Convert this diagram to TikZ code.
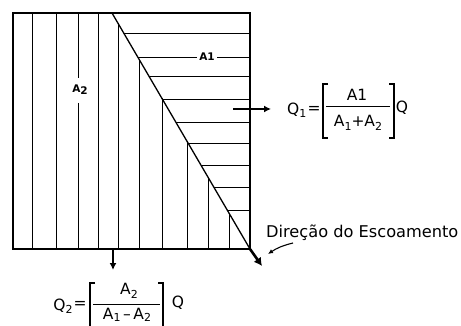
\documentclass[tikz,border=0pt]{standalone}
\usepackage{fontspec}
\setmainfont{DejaVu Sans}
\usetikzlibrary{arrows.meta}
\newcommand{\sbx}[1]{\raisebox{-3.5pt}{\fontsize{11}{11}\selectfont #1}}
\newcommand{\sby}[1]{\raisebox{-2.5pt}{\fontsize{11}{11}\selectfont #1}}
\begin{document}
\begin{tikzpicture}[x=1pt,y=-1pt,
  hatch/.style={line width=0.9pt},
  frame/.style={line width=2.6pt},
  diag/.style={line width=1.3pt},
  lbl/.style={inner sep=1pt,font=\bfseries\fontsize{10.5}{10.5}\selectfont},
  eq/.style={inner sep=0pt,font=\fontsize{15.5}{16}\selectfont},
  brk/.style={line width=1.2pt},
  flow/.style={line width=1.8pt,-{Latex[length=7pt,width=7pt]}}]
\useasboundingbox (0,0) rectangle (461,326);
% hatching: vertical lines (A2)
\foreach \x in {32,56,98}{\draw[hatch] (\x,13) -- (\x,249);}
\draw[hatch] (78,13) -- (78,78);
\draw[hatch] (78,103) -- (78,249);
\foreach \x/\y in {118/23.3,139/59.2,162/98.5,187/141.3,208/177.2,229/213.1}
  {\draw[hatch] (\x,\y) -- (\x,249);}
% horizontal lines (A1)
\foreach \y/\x in {33/123.7,76/148.8,99/162.3,122/175.7,143/188,165/200.9,187/213.7,210/227.2}
  {\draw[hatch] (\x,\y) -- (250,\y);}
\draw[hatch] (137.7,57) -- (197,57);
\draw[hatch] (217,57) -- (250,57);
% labels
\node[lbl] (a2) at (80,90) {A\raisebox{-2pt}{2}};
\node[lbl] (a1) at (207,57) {A1};
% diagonal and frame
\coordinate (dtop) at (112,13);
\coordinate (corner) at (250,249);
\draw[diag] (dtop) -- (corner);
\draw[frame] (13,13) rectangle (250,249);
% Q1 formula
\node[eq,anchor=west] (q1) at (287,110) {Q\sbx{1}};
\node[eq] (eq1) at (314,110) {=};
\node[eq] (n1) at (357,95) {A1};
\node[eq] (d1) at (358,123) {A\sbx{1}+A\sbx{2}};
\node[eq] (qa) at (402,108) {Q};
\draw[brk] (328,84) -- (323,84) -- (323,138) -- (328,138);
\draw[brk] (389,84) -- (394,84) -- (394,138) -- (389,138);
\draw[hatch] (326,106) -- (390,106);
\coordinate (qstart) at (233,109);
\coordinate (qend) at (271,109);
\draw[flow] (qstart) -- (qend);
% Q2 formula
\node[eq] (q2) at (63,306) {Q\sbx{2}};
\node[eq] (eq2) at (80,305) {=};
\node[eq] (n2) at (129,291) {A\sbx{2}};
\node[eq] (d2) at (127,315) {A\sby{1}\,--\,A\sby{2}};
\node[eq] (qb) at (178,303) {Q};
\draw[brk] (95,283) -- (90,283) -- (90,328);
\draw[brk] (158,283) -- (163,283) -- (163,328);
\draw[hatch] (93,304) -- (160,304);
\coordinate (bot) at (113,249);
\coordinate (botend) at (113,270);
\draw[flow] (bot) -- (botend);
% flow direction
\coordinate (cornerend) at (262,266);
\draw[line width=2.6pt,-{Latex[length=8pt,width=9pt]}] (corner) -- (cornerend);
\node[anchor=west,inner sep=0pt,font=\fontsize{16.2}{16}\selectfont] (dir) at (266,233) {Direção do Escoamento};
\coordinate (cs) at (293,243);
\coordinate (ce) at (268,254);
\draw[line width=1.1pt,-{Latex[length=5pt,width=4.5pt]}] (cs) to[bend right=10] (ce);
\end{tikzpicture}
\end{document}
